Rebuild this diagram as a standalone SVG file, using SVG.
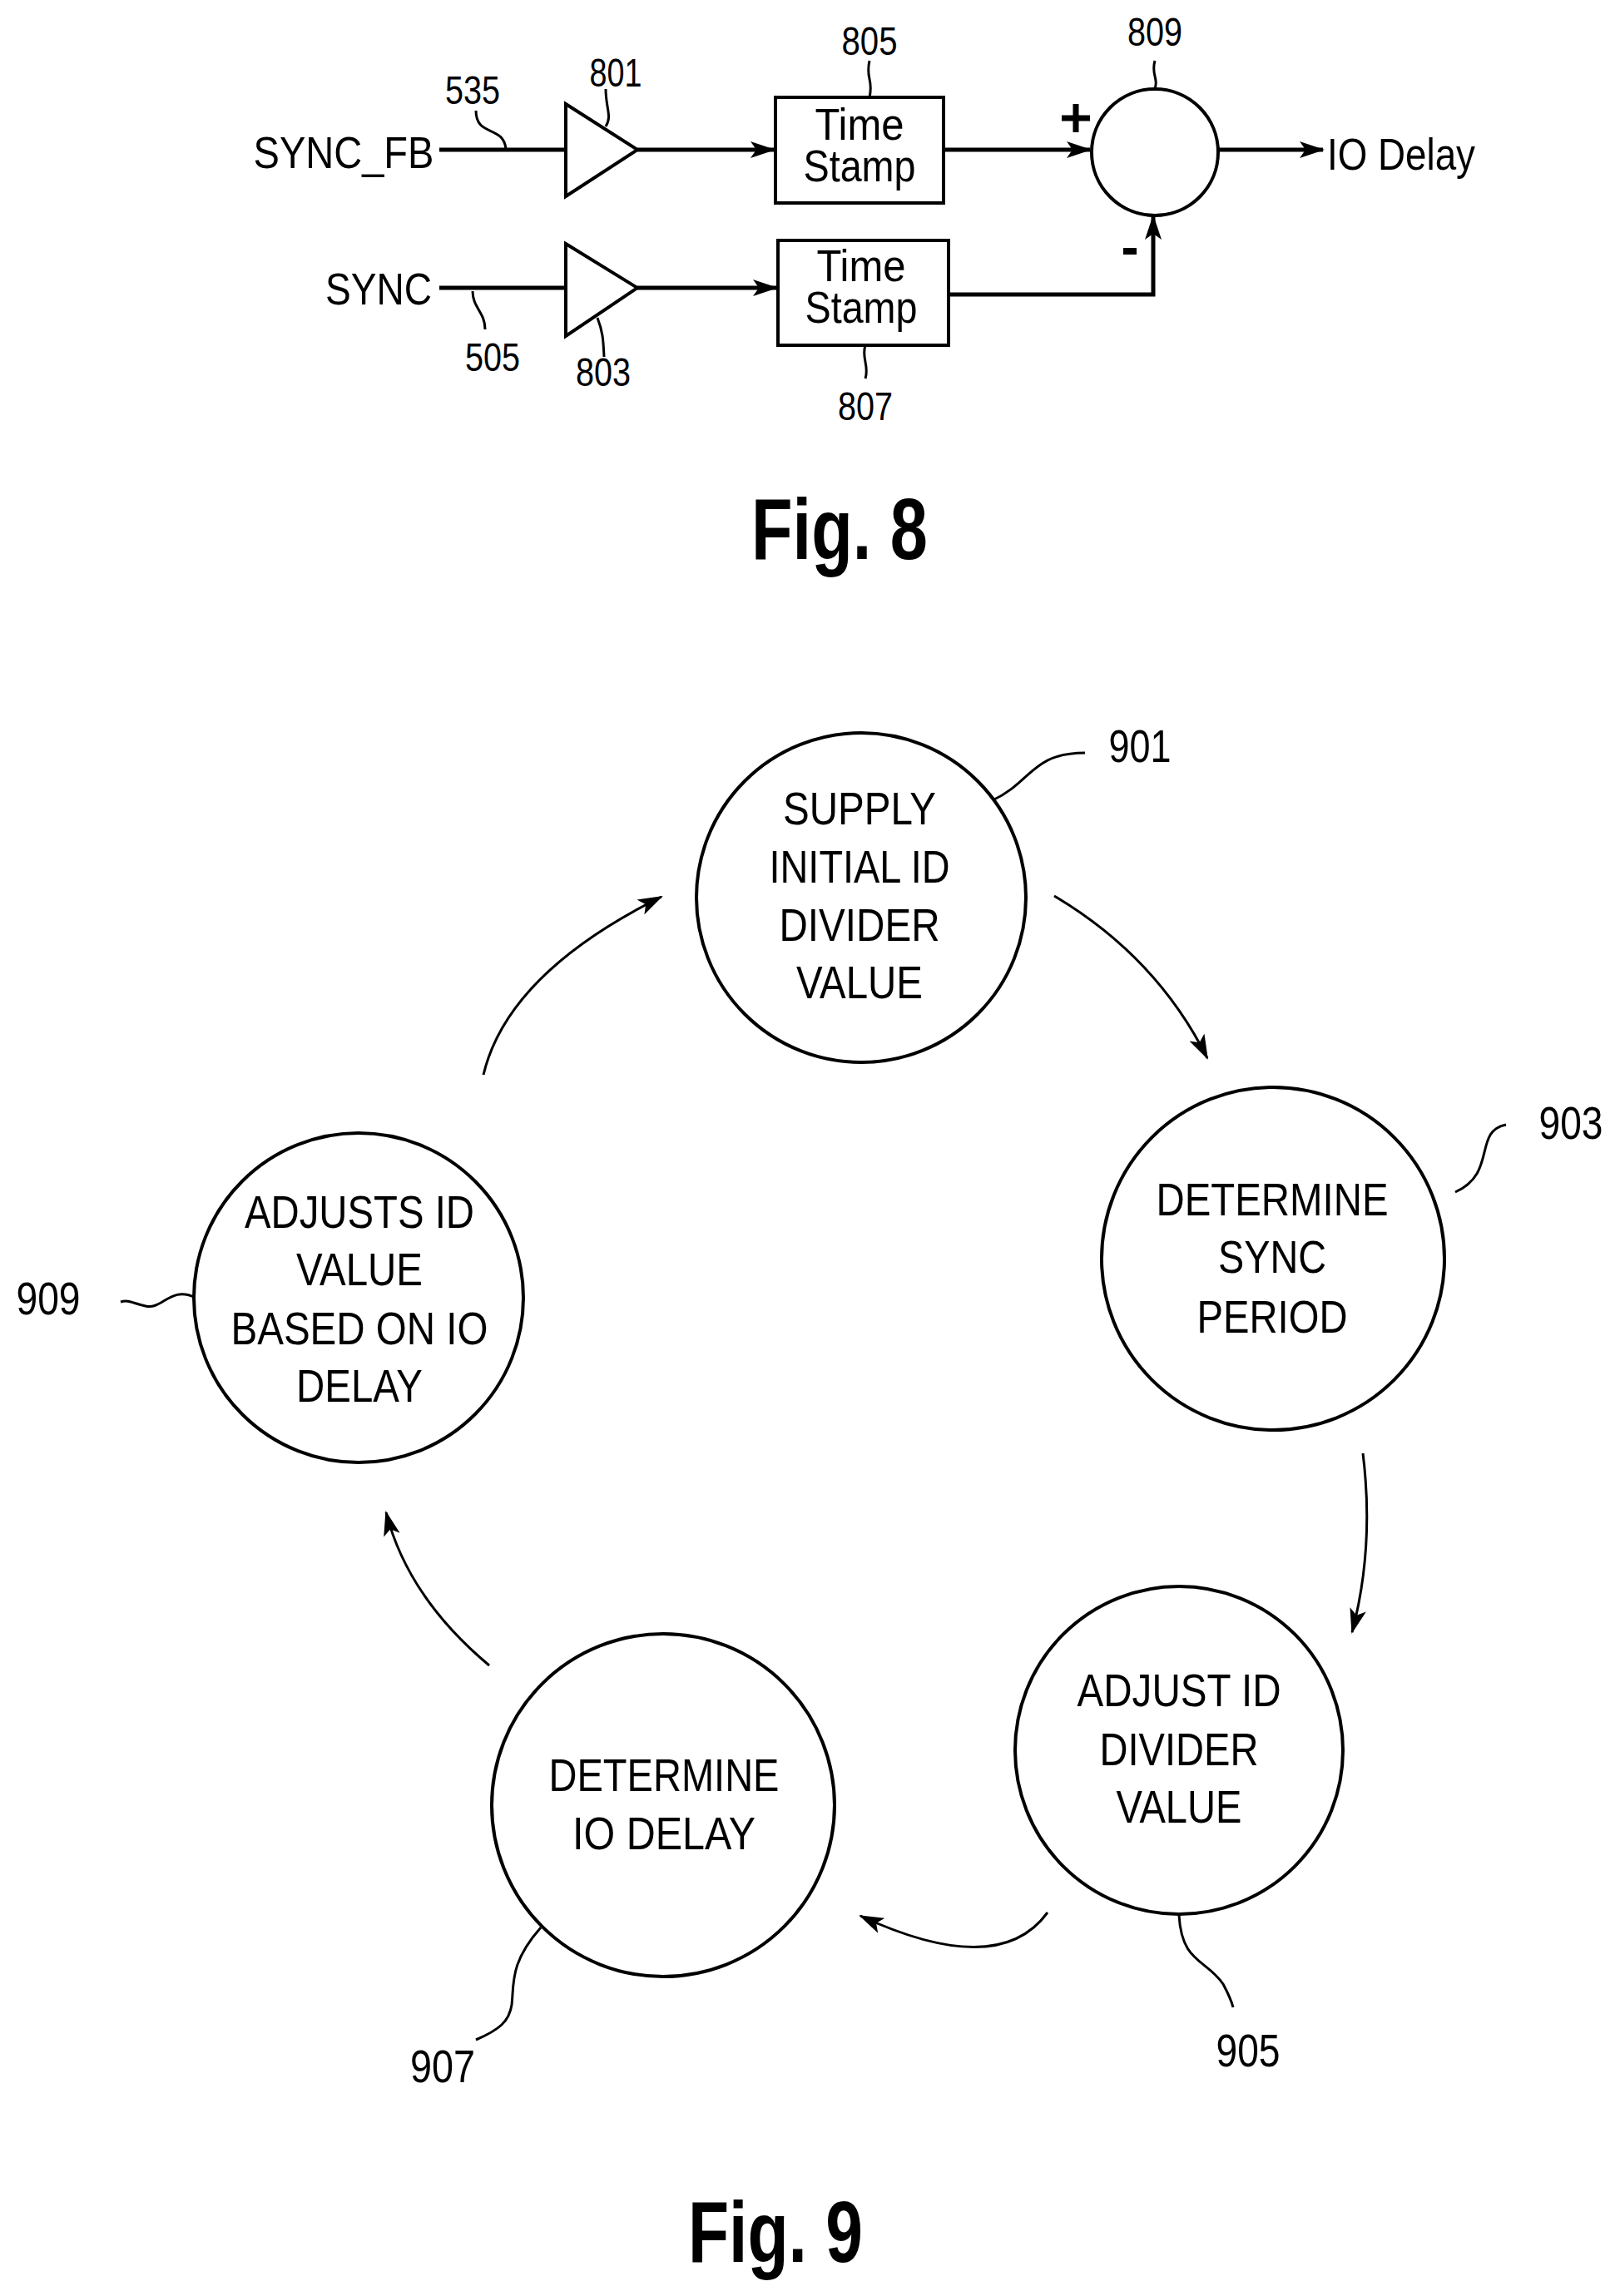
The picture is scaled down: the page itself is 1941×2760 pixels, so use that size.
<svg xmlns="http://www.w3.org/2000/svg" width="1941" height="2760" viewBox="0 0 1941 2760">
<style>
text{font-family:"Liberation Sans",Arial,sans-serif;fill:#000;text-anchor:middle;}
.t{font-size:54px}
.n{font-size:48px}
.c{font-size:56px}
.m{font-size:56px}
.f{font-size:104px;font-weight:bold}
.ln{fill:none;stroke:#000;stroke-width:5}
.th{fill:none;stroke:#000;stroke-width:3}
.nd{fill:#fff;stroke:#000;stroke-width:4}
</style>
<defs>
<marker id="a" viewBox="0 0 30 20" refX="28" refY="10" markerWidth="30" markerHeight="20" markerUnits="userSpaceOnUse" orient="auto">
<path d="M0,0 L30,10 L0,20 L7,10 Z" fill="#000"/>
</marker>
</defs>
<g id="connectors">
<path class="ln" d="M528,180 H680"/>
<path class="ln" d="M766,180 H930" marker-end="url(#a)"/>
<path class="ln" d="M1134,180 H1310" marker-end="url(#a)"/>
<path class="ln" d="M1464,180 H1590" marker-end="url(#a)"/>
<path class="ln" d="M528,346 H680"/>
<path class="ln" d="M766,346 H933" marker-end="url(#a)"/>
<path class="ln" d="M1140,354 H1386 V260" marker-end="url(#a)"/>
<path class="th" d="M1267,1077 Q1390,1150 1451,1272" marker-end="url(#a)"/>
<path class="th" d="M1638,1747 Q1652,1860 1625,1962" marker-end="url(#a)"/>
<path class="th" d="M1259,2299 Q1200,2380 1034,2303" marker-end="url(#a)"/>
<path class="th" d="M588,2002 Q490,1920 464,1818" marker-end="url(#a)"/>
<path class="th" d="M581,1292 Q610,1170 795,1078" marker-end="url(#a)"/>
</g>
<g id="leaders">
<path class="th" d="M572,133 C572,165 605,150 608,179"/>
<path class="th" d="M728,107 C728,130 736,140 728,152"/>
<path class="th" d="M1045,73 C1040,95 1050,95 1045,117"/>
<path class="th" d="M1388,73 C1383,90 1393,95 1388,106"/>
<path class="th" d="M568,350 C568,370 583,375 583,396"/>
<path class="th" d="M718,382 C725,400 725,410 726,429"/>
<path class="th" d="M1040,415 C1035,430 1045,440 1040,455"/>
<path class="th" d="M1193,962 C1240,940 1240,905 1304,905"/>
<path class="th" d="M1749,1433 C1800,1410 1770,1360 1810,1352"/>
<path class="th" d="M235,1560 C205,1545 195,1575 175,1570 C160,1567 155,1562 145,1565"/>
<path class="th" d="M1417,2302 C1420,2360 1450,2355 1470,2385 C1478,2400 1480,2405 1482,2413"/>
<path class="th" d="M650,2317 C612,2360 618,2385 615,2410 C612,2430 600,2440 572,2452"/>
</g>
<g id="n801"><path class="nd" d="M680,125 L766,180 L680,236 Z"/><text class="n" x="740" y="104" textLength="63" lengthAdjust="spacingAndGlyphs">801</text></g>
<g id="n803"><path class="nd" d="M680,293 L766,346 L680,404 Z"/><text class="n" x="725" y="464" textLength="66" lengthAdjust="spacingAndGlyphs">803</text></g>
<g id="n805"><rect class="nd" x="932" y="117" width="202" height="127"/><text class="t" x="1033" y="168" textLength="107" lengthAdjust="spacingAndGlyphs">Time</text><text class="t" x="1033" y="218" textLength="135" lengthAdjust="spacingAndGlyphs">Stamp</text><text class="n" x="1045" y="66" textLength="67" lengthAdjust="spacingAndGlyphs">805</text></g>
<g id="n807"><rect class="nd" x="935" y="289" width="205" height="126"/><text class="t" x="1035" y="338" textLength="107" lengthAdjust="spacingAndGlyphs">Time</text><text class="t" x="1035" y="388" textLength="135" lengthAdjust="spacingAndGlyphs">Stamp</text><text class="n" x="1040" y="505" textLength="66" lengthAdjust="spacingAndGlyphs">807</text></g>
<g id="n809"><circle class="nd" cx="1388" cy="183" r="76"/><text class="n" x="1388" y="55" textLength="66" lengthAdjust="spacingAndGlyphs">809</text>
<path d="M1276,142 H1310 M1293,125 V159" stroke="#000" stroke-width="7"/><path d="M1350,302 H1366" stroke="#000" stroke-width="8"/></g>
<g id="labels8">
<text class="t" x="413" y="202" textLength="217" lengthAdjust="spacingAndGlyphs">SYNC_FB</text>
<text class="t" x="455" y="366" textLength="128" lengthAdjust="spacingAndGlyphs">SYNC</text>
<text class="t" x="1684" y="204" textLength="178" lengthAdjust="spacingAndGlyphs">IO Delay</text>
<text class="n" x="568" y="125" textLength="66" lengthAdjust="spacingAndGlyphs">535</text>
<text class="n" x="592" y="446" textLength="66" lengthAdjust="spacingAndGlyphs">505</text>
<text class="f" x="1009" y="672" textLength="212" lengthAdjust="spacingAndGlyphs">Fig. 8</text>
</g>
<g id="n901"><circle class="nd" cx="1035" cy="1079" r="198"/>
<text class="c" x="1033" y="991" textLength="184" lengthAdjust="spacingAndGlyphs">SUPPLY</text>
<text class="c" x="1033" y="1061" textLength="217" lengthAdjust="spacingAndGlyphs">INITIAL ID</text>
<text class="c" x="1033" y="1131" textLength="193" lengthAdjust="spacingAndGlyphs">DIVIDER</text>
<text class="c" x="1033" y="1200" textLength="152" lengthAdjust="spacingAndGlyphs">VALUE</text>
<text class="m" x="1370" y="916" textLength="75" lengthAdjust="spacingAndGlyphs">901</text></g>
<g id="n903"><circle class="nd" cx="1530" cy="1513" r="206"/>
<text class="c" x="1529" y="1461" textLength="279" lengthAdjust="spacingAndGlyphs">DETERMINE</text>
<text class="c" x="1529" y="1530" textLength="130" lengthAdjust="spacingAndGlyphs">SYNC</text>
<text class="c" x="1529" y="1602" textLength="181" lengthAdjust="spacingAndGlyphs">PERIOD</text>
<text class="m" x="1888" y="1369" textLength="77" lengthAdjust="spacingAndGlyphs">903</text></g>
<g id="n905"><circle class="nd" cx="1417" cy="2104" r="197"/>
<text class="c" x="1417" y="2051" textLength="245" lengthAdjust="spacingAndGlyphs">ADJUST ID</text>
<text class="c" x="1417" y="2122" textLength="191" lengthAdjust="spacingAndGlyphs">DIVIDER</text>
<text class="c" x="1417" y="2191" textLength="151" lengthAdjust="spacingAndGlyphs">VALUE</text>
<text class="m" x="1500" y="2484" textLength="77" lengthAdjust="spacingAndGlyphs">905</text></g>
<g id="n907"><circle class="nd" cx="797" cy="2170" r="206"/>
<text class="c" x="798" y="2153" textLength="277" lengthAdjust="spacingAndGlyphs">DETERMINE</text>
<text class="c" x="798" y="2223" textLength="220" lengthAdjust="spacingAndGlyphs">IO DELAY</text>
<text class="m" x="532" y="2503" textLength="78" lengthAdjust="spacingAndGlyphs">907</text></g>
<g id="n909"><circle class="nd" cx="431" cy="1560" r="198"/>
<text class="c" x="432" y="1476" textLength="276" lengthAdjust="spacingAndGlyphs">ADJUSTS ID</text>
<text class="c" x="432" y="1545" textLength="152" lengthAdjust="spacingAndGlyphs">VALUE</text>
<text class="c" x="432" y="1616" textLength="309" lengthAdjust="spacingAndGlyphs">BASED ON IO</text>
<text class="c" x="432" y="1685" textLength="152" lengthAdjust="spacingAndGlyphs">DELAY</text>
<text class="m" x="58" y="1580" textLength="77" lengthAdjust="spacingAndGlyphs">909</text></g>
<text class="f" x="932" y="2719" textLength="210" lengthAdjust="spacingAndGlyphs">Fig. 9</text>
</svg>
